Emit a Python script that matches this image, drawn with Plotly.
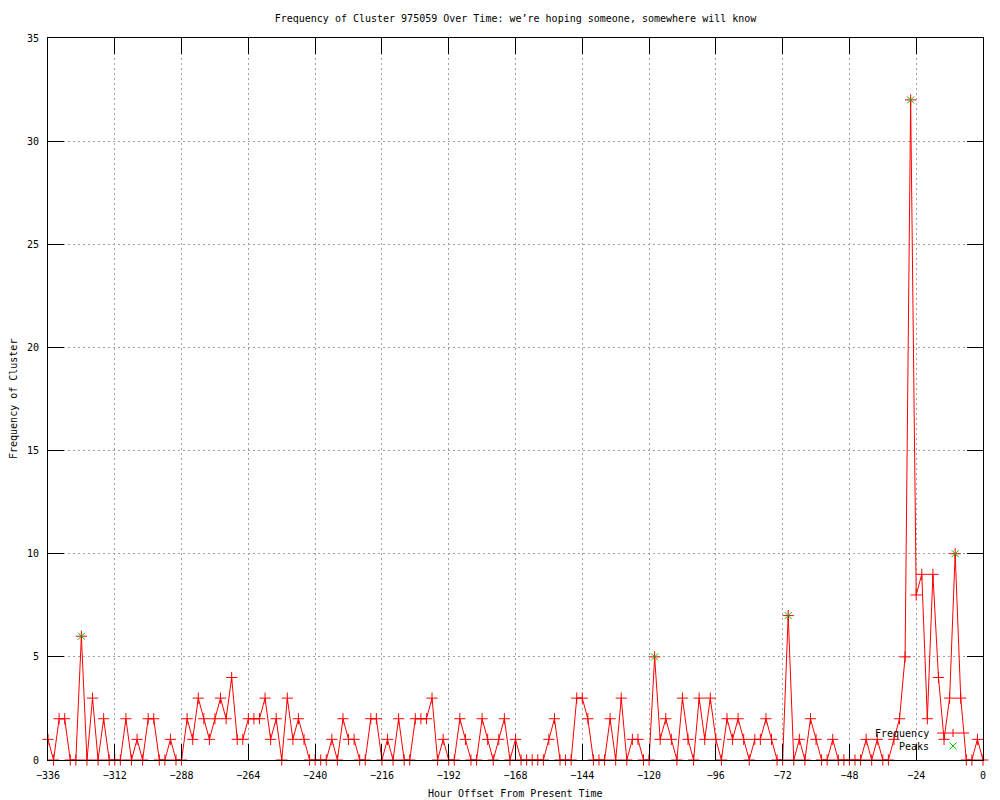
import plotly.graph_objects as go

# ---- data ----
hours = list(range(-336, 1, 2))
counts = [
    1, 0, 2, 2, 0, 0, 6, 0, 3, 0, 2, 0, 0, 0, 2, 0, 1, 0, 2, 2,
    0, 0, 1, 0, 0, 2, 1, 3, 2, 1, 2, 3, 2, 4, 1, 1, 2, 2, 2, 3,
    1, 2, 0, 3, 1, 2, 1, 0, 0, 0, 0, 1, 0, 2, 1, 1, 0, 0, 2, 2,
    0, 1, 0, 2, 0, 0, 2, 2, 2, 3, 0, 1, 0, 0, 2, 1, 0, 0, 2, 1,
    0, 1, 2, 0, 1, 0, 0, 0, 0, 0, 1, 2, 0, 0, 0, 3, 3, 2, 0, 0,
    0, 2, 0, 3, 0, 1, 1, 0, 0, 5, 1, 2, 1, 0, 3, 1, 0, 3, 1, 3,
    1, 0, 2, 1, 2, 1, 0, 1, 1, 2, 1, 0, 0, 7, 0, 1, 0, 2, 1, 0,
    0, 1, 0, 0, 0, 0, 0, 1, 0, 1, 0, 0, 1, 2, 5, 32, 8, 9, 2, 9,
    4, 1, 3, 10, 3, 0, 0, 1, 0,
]
peak_hours = [-324, -118, -70, -26, -10]
peak_values = [6, 5, 7, 32, 10]

x_ticks = list(range(-336, 1, 24))
y_ticks = list(range(0, 36, 5))

title_text = "Frequency of Cluster 975059 Over Time: we\u2019re hoping someone, somewhere will know"
x_title = "Hour Offset From Present Time"
y_title = "Frequency of Cluster"

FONT = "DejaVu Sans Mono"
RED = "#ff0000"
GREEN = "#00c000"

fig = go.Figure()
fig.add_trace(go.Scatter(
    x=hours, y=counts, mode="lines+markers", name="Frequency",
    line=dict(color=RED, width=1),
    marker=dict(symbol="cross-thin", size=8, line=dict(color=RED, width=1)),
    cliponaxis=False, showlegend=False, hoverinfo="skip",
))
fig.add_trace(go.Scatter(
    x=peak_hours, y=peak_values, mode="markers", name="Peaks",
    marker=dict(symbol="x-thin", size=7, line=dict(color=GREEN, width=1)),
    cliponaxis=False, showlegend=False, hoverinfo="skip",
))

axis_common = dict(
    showline=True, linecolor="black", linewidth=1, mirror="ticks",
    ticks="inside", ticklen=16, tickcolor="black", tickwidth=1,
    showgrid=True, gridcolor="#a0a0a0", gridwidth=1, griddash="2px,3px",
    zeroline=False, tickfont=dict(family=FONT, size=10, color="black"),
)

fig.update_xaxes(range=[-336, 0], tickmode="array", tickvals=x_ticks,
                 ticklabelstandoff=6, **axis_common)
fig.update_yaxes(range=[0, 35], tickmode="array", tickvals=y_ticks,
                 ticklabelstandoff=6, **axis_common)

L, R, T, B = 48, 17, 38, 40
W, H = 1000, 800
pw, ph = W - L - R, H - T - B

def px_x(p):
    return (p - L) / pw

def px_y(p):
    return (H - B - p) / ph

shapes = []
# legend sample: Frequency
shapes.append(dict(type="line", xref="paper", yref="paper",
                   x0=px_x(937), x1=px_x(969), y0=px_y(733), y1=px_y(733),
                   line=dict(color=RED, width=1)))
shapes.append(dict(type="line", xref="paper", yref="paper", ysizemode="pixel",
                   yanchor=px_y(733), y0=-4, y1=4, x0=px_x(953), x1=px_x(953),
                   line=dict(color=RED, width=1)))
# legend sample: Peaks
for sgn in (1, -1):
    shapes.append(dict(type="line", xref="paper", yref="paper",
                       xsizemode="pixel", ysizemode="pixel",
                       xanchor=px_x(953), yanchor=px_y(746),
                       x0=-3.5, x1=3.5, y0=-3.5 * sgn, y1=3.5 * sgn,
                       line=dict(color=GREEN, width=1)))

annotations = [
    dict(text=y_title, xref="paper", yref="paper", x=0, y=0.5, xshift=-35,
         xanchor="center", yanchor="middle", textangle=-90, showarrow=False,
         font=dict(family=FONT, size=10, color="black")),
    dict(text=x_title, xref="paper", yref="paper", x=0.5, y=0, yshift=-33,
         xanchor="center", yanchor="middle", showarrow=False,
         font=dict(family=FONT, size=10, color="black")),
    dict(text="Frequency", xref="paper", yref="paper", x=px_x(931), y=px_y(733),
         xanchor="right", yanchor="middle", showarrow=False,
         font=dict(family=FONT, size=10, color="black")),
    dict(text="Peaks", xref="paper", yref="paper", x=px_x(931), y=px_y(746),
         xanchor="right", yanchor="middle", showarrow=False,
         font=dict(family=FONT, size=10, color="black")),
]

fig.update_layout(
    width=W, height=H,
    margin=dict(l=L, r=R, t=T, b=B, pad=0),
    paper_bgcolor="white", plot_bgcolor="white",
    title=dict(text=title_text, x=0.5, xref="paper", xanchor="center",
               y=1 - 18 / H, yanchor="middle",
               font=dict(family=FONT, size=10, color="black")),
    shapes=shapes, annotations=annotations,
    showlegend=False, hovermode=False,
)

fig.write_html(
    "out.html",
    config={"displayModeBar": False, "staticPlot": True},
    post_script="document.body.style.margin='0';document.body.style.overflow='hidden';",
)
